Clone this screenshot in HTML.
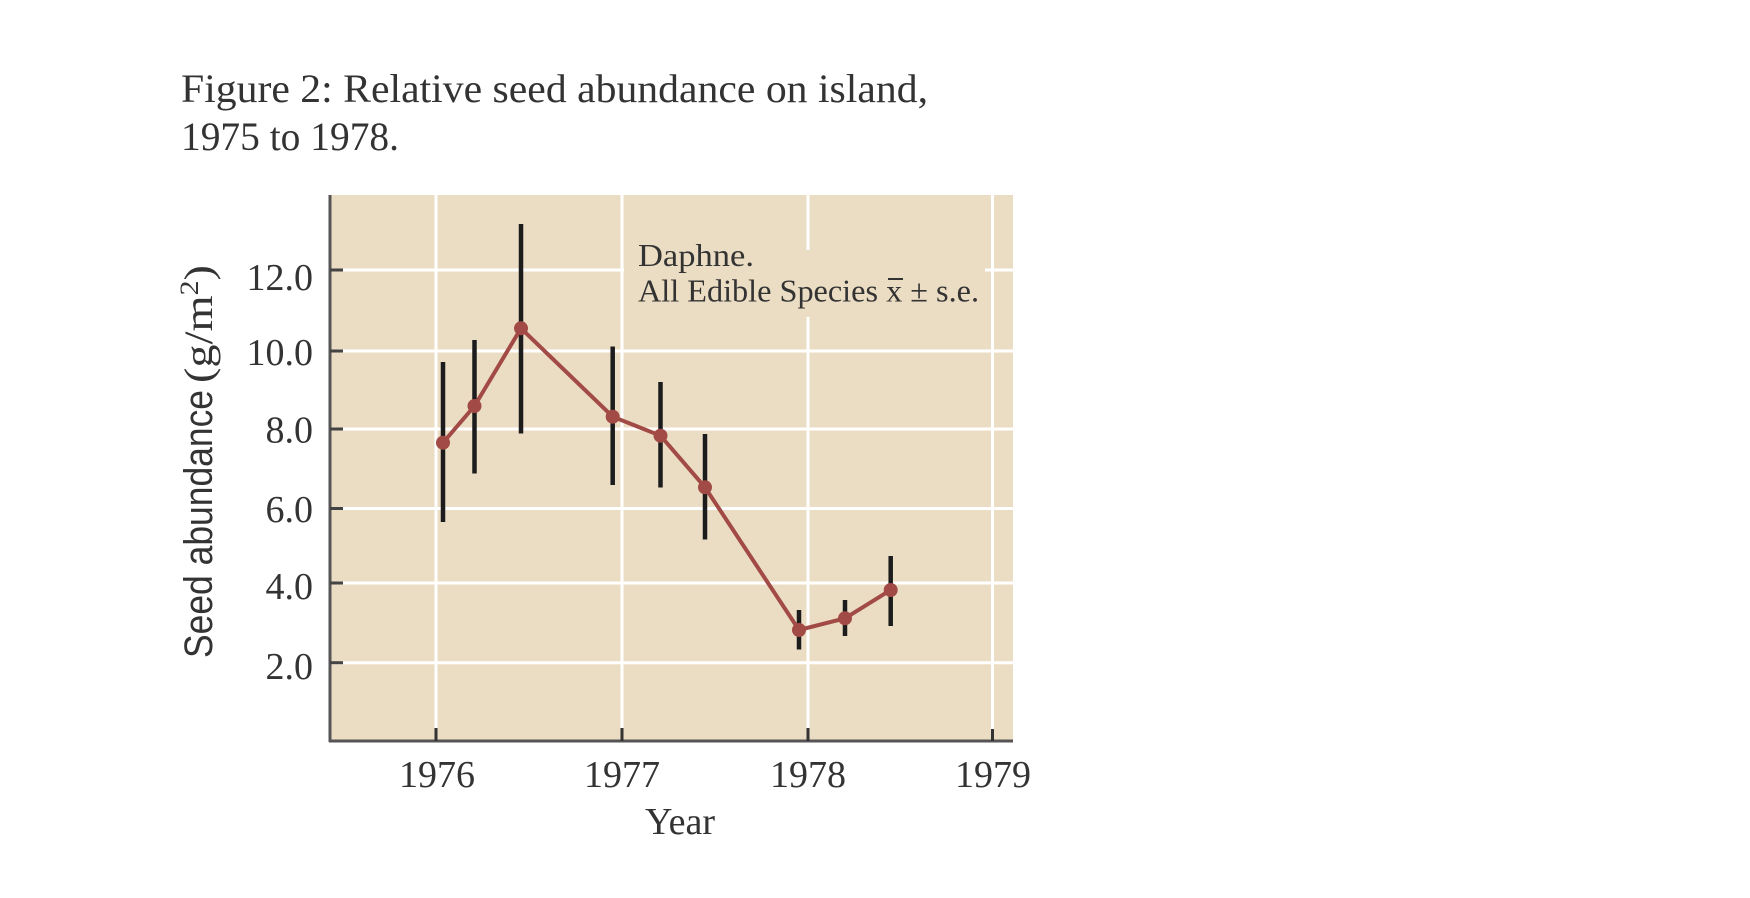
<!DOCTYPE html>
<html>
<head>
<meta charset="utf-8">
<style>
  html,body{margin:0;padding:0;background:#fff;}
  body{width:1750px;height:898px;overflow:hidden;}
  svg{display:block;}
  .serif{font-family:"Liberation Serif","DejaVu Serif",serif;fill:#333;}
  .sans{font-family:"Liberation Sans","DejaVu Sans",sans-serif;fill:#333;}
</style>
</head>
<body>
<svg width="1750" height="898" viewBox="0 0 1750 898" xmlns="http://www.w3.org/2000/svg">
  <rect x="0" y="0" width="1750" height="898" fill="#ffffff"/>

  <!-- Title -->
  <text class="serif" x="181" y="102" font-size="40" textLength="747" lengthAdjust="spacingAndGlyphs">Figure 2: Relative seed abundance on island,</text>
  <text class="serif" x="181" y="150" font-size="40" textLength="218" lengthAdjust="spacingAndGlyphs">1975 to 1978.</text>

  <!-- Plot background -->
  <rect x="330" y="195" width="683" height="546" fill="#ebddc3"/>

  <!-- Horizontal gridlines -->
  <g stroke="#ffffff" stroke-width="3">
    <line x1="330" y1="270" x2="1013" y2="270"/>
    <line x1="330" y1="351" x2="1013" y2="351"/>
    <line x1="330" y1="429" x2="1013" y2="429"/>
    <line x1="330" y1="508.5" x2="1013" y2="508.5"/>
    <line x1="330" y1="583" x2="1013" y2="583"/>
    <line x1="330" y1="662.7" x2="1013" y2="662.7"/>
  </g>
  <!-- Vertical gridlines -->
  <g stroke="#ffffff" stroke-width="3">
    <line x1="436" y1="195" x2="436" y2="741"/>
    <line x1="622" y1="195" x2="622" y2="741"/>
    <line x1="808" y1="195" x2="808" y2="741"/>
    <line x1="992.5" y1="195" x2="992.5" y2="741"/>
  </g>

  <!-- Legend box (masks gridlines) -->
  <rect x="624" y="250" width="361" height="67" fill="#ebddc3"/>
  <text class="serif" x="638" y="266" font-size="32" textLength="116" lengthAdjust="spacingAndGlyphs">Daphne.</text>
  <text class="serif" x="638" y="301.7" font-size="32" textLength="341" lengthAdjust="spacingAndGlyphs">All Edible Species x ± s.e.</text>
  <line x1="888" y1="279" x2="903" y2="279" stroke="#333" stroke-width="2"/>

  <!-- Axes -->
  <line x1="330" y1="195" x2="330" y2="742" stroke="#555" stroke-width="3"/>
  <line x1="329" y1="741" x2="1013" y2="741" stroke="#555" stroke-width="3"/>

  <!-- Y ticks -->
  <g stroke="#444" stroke-width="3">
    <line x1="330" y1="270" x2="343" y2="270"/>
    <line x1="330" y1="351" x2="343" y2="351"/>
    <line x1="330" y1="429" x2="343" y2="429"/>
    <line x1="330" y1="508.5" x2="343" y2="508.5"/>
    <line x1="330" y1="583" x2="343" y2="583"/>
    <line x1="330" y1="662.7" x2="343" y2="662.7"/>
  </g>
  <!-- X ticks -->
  <g stroke="#333" stroke-width="3">
    <line x1="436" y1="728" x2="436" y2="741"/>
    <line x1="622" y1="728" x2="622" y2="741"/>
    <line x1="808" y1="728" x2="808" y2="741"/>
    <line x1="992.5" y1="729" x2="992.5" y2="741"/>
  </g>

  <!-- Y tick labels -->
  <g class="serif" font-size="38" text-anchor="end">
    <text x="313" y="290">12.0</text>
    <text x="313" y="365">10.0</text>
    <text x="313" y="442.5">8.0</text>
    <text x="313" y="522">6.0</text>
    <text x="313" y="599">4.0</text>
    <text x="313" y="679">2.0</text>
  </g>

  <!-- X tick labels -->
  <g class="serif" font-size="38" text-anchor="middle">
    <text x="437" y="787">1976</text>
    <text x="622" y="787">1977</text>
    <text x="808" y="787">1978</text>
    <text x="993" y="787">1979</text>
  </g>
  <text class="serif" x="680" y="834" font-size="38" text-anchor="middle">Year</text>

  <!-- Y axis label -->
  <text class="sans" transform="translate(212,658) rotate(-90)" x="0" y="0" font-size="40" textLength="268" lengthAdjust="spacingAndGlyphs">Seed abundance</text>
  <text class="serif" transform="translate(212,383) rotate(-90)" x="0" y="0" font-size="40" textLength="118" lengthAdjust="spacingAndGlyphs">(g/m<tspan font-size="26" dy="-14">2</tspan><tspan dy="14">)</tspan></text>

  <!-- Error bars -->
  <g stroke="#1c1c1c" stroke-width="4.5">
    <line x1="443" y1="362" x2="443" y2="522"/>
    <line x1="474.5" y1="340" x2="474.5" y2="473.5"/>
    <line x1="521" y1="224" x2="521" y2="433.5"/>
    <line x1="612.7" y1="346.5" x2="612.7" y2="485"/>
    <line x1="660.5" y1="382" x2="660.5" y2="487.5"/>
    <line x1="705" y1="434" x2="705" y2="539.5"/>
    <line x1="799" y1="610" x2="799" y2="649.5"/>
    <line x1="845" y1="600" x2="845" y2="636"/>
    <line x1="890.7" y1="556" x2="890.7" y2="626"/>
  </g>

  <!-- Series line -->
  <polyline fill="none" stroke="#a24a46" stroke-width="4" stroke-linejoin="round"
    points="443,442.7 474.5,406 521,328.3 612.7,416.7 660.5,435.7 705,487.3 799,630 845,618.3 890.7,590"/>

  <!-- Markers -->
  <g fill="#a24a46">
    <circle cx="443" cy="442.7" r="7"/>
    <circle cx="474.5" cy="406" r="7"/>
    <circle cx="521" cy="328.3" r="7"/>
    <circle cx="612.7" cy="416.7" r="7"/>
    <circle cx="660.5" cy="435.7" r="7"/>
    <circle cx="705" cy="487.3" r="7"/>
    <circle cx="799" cy="630" r="7"/>
    <circle cx="845" cy="618.3" r="7"/>
    <circle cx="890.7" cy="590" r="7"/>
  </g>
</svg>
</body>
</html>
